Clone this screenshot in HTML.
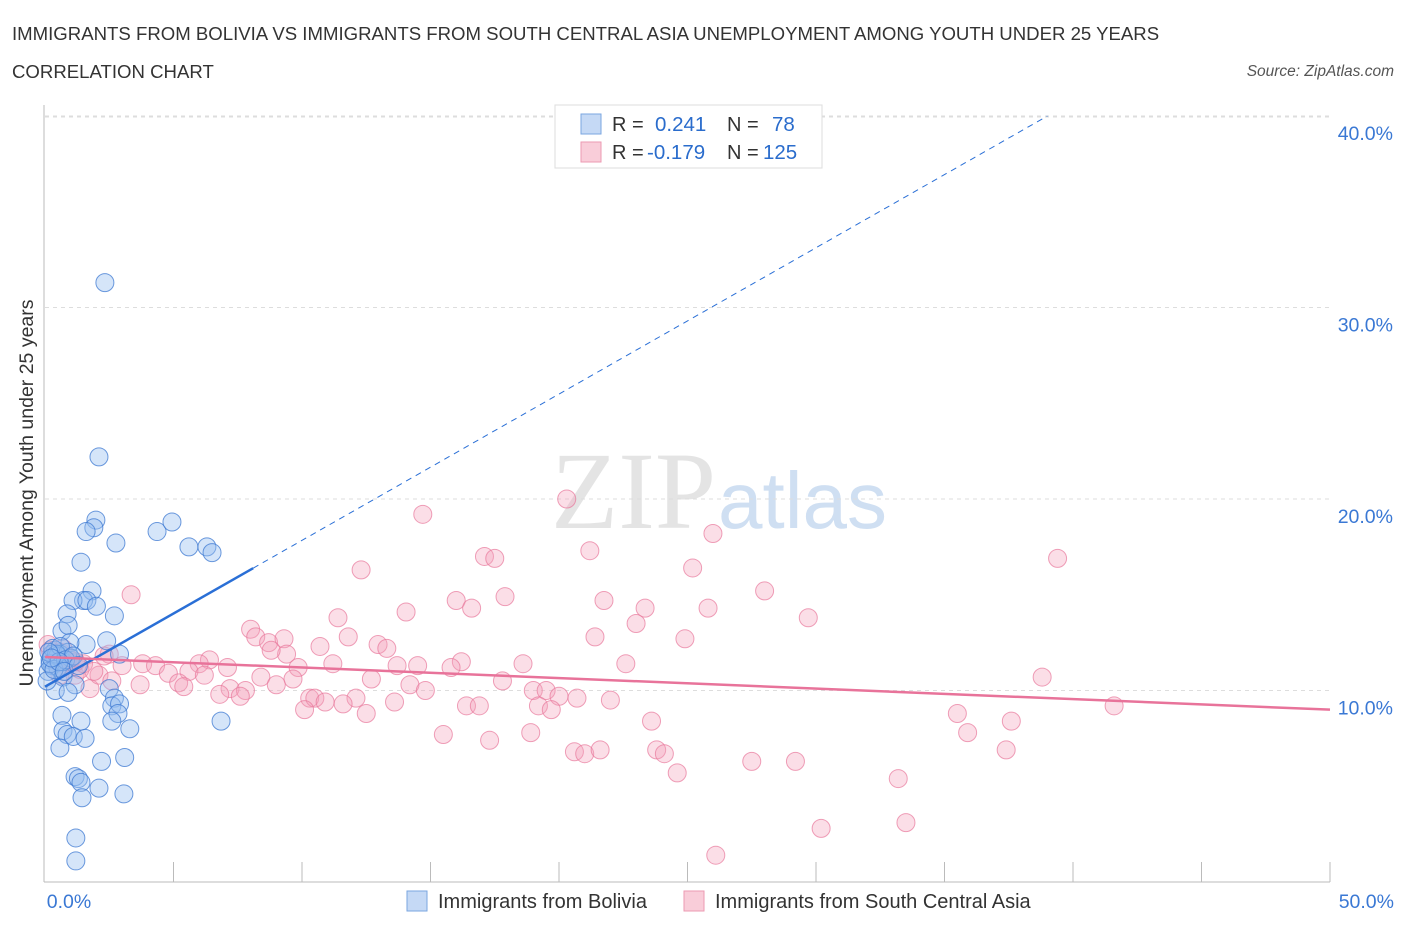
<!DOCTYPE html>
<html><head><meta charset="utf-8">
<style>
body{margin:0;background:#fff;font-family:"Liberation Sans",sans-serif;}
svg text{font-family:"Liberation Sans",sans-serif;}
</style></head>
<body>
<svg id="chart" width="1406" height="930" viewBox="0 0 1406 930" xmlns="http://www.w3.org/2000/svg">
<text x="12" y="40" font-size="18.6" fill="#333">IMMIGRANTS FROM BOLIVIA VS IMMIGRANTS FROM SOUTH CENTRAL ASIA UNEMPLOYMENT AMONG YOUTH UNDER 25 YEARS</text>
<text x="12" y="78" font-size="18.6" fill="#333">CORRELATION CHART</text>
<text x="1394" y="76" font-size="15.5" fill="#555" font-style="italic" text-anchor="end">Source: ZipAtlas.com</text>
<text x="716" y="528" font-size="110" fill="#e4e4e4" text-anchor="end" style="font-family:'Liberation Serif',serif">ZIP</text>
<text x="718" y="528" font-size="80" fill="#cfdff2">atlas</text>
<g id="grid"></g>
<g id="axes"></g>
<g id="pts"></g>
<g id="trends"></g>
<text x="33" y="493" font-size="19.5" fill="#333" text-anchor="middle" transform="rotate(-90 33 493)">Unemployment Among Youth under 25 years</text>
<g>
<rect x="555" y="105" width="267" height="63" fill="#fff" stroke="#ddd"/>
<rect x="581" y="114" width="20" height="20" fill="#c5d9f5" stroke="#7aa6e0"/>
<rect x="581" y="142" width="20" height="20" fill="#f9cdd9" stroke="#ec9ab2"/>
<text x="612" y="131" font-size="20" fill="#333">R = </text><text x="655" y="131" font-size="20.5" fill="#2a6ccc">0.241</text>
<text x="727" y="131" font-size="20" fill="#333">N = </text><text x="772" y="131" font-size="20.5" fill="#2a6ccc">78</text>
<text x="612" y="159" font-size="20" fill="#333">R = </text><text x="647" y="159" font-size="20.5" fill="#2a6ccc">-0.179</text>
<text x="727" y="159" font-size="20" fill="#333">N = </text><text x="763" y="159" font-size="20.5" fill="#2a6ccc">125</text>
</g>
<g>
<rect x="407" y="891" width="20" height="20" fill="#c5d9f5" stroke="#7aa6e0"/>
<text x="438" y="908" font-size="20" fill="#333">Immigrants from Bolivia</text>
<rect x="684" y="891" width="20" height="20" fill="#f9cdd9" stroke="#ec9ab2"/>
<text x="715" y="908" font-size="20" fill="#333">Immigrants from South Central Asia</text>
</g>
</svg>
<script>
const blueX=[2.33,2.1,1.98,1.9,1.6,2.76,4.36,4.94,5.6,6.3,6.5,1.4,1.83,1.5,1.09,1.63,2.0,2.7,0.86,0.66,0.9,2.4,1.6,0.97,2.9,0.4,0.58,0.2,0.27,0.5,0.12,0.7,1.17,0.4,0.9,2.5,2.7,2.6,2.9,2.84,0.66,1.4,2.6,3.3,6.85,0.7,0.86,1.1,1.56,0.58,3.1,2.2,1.17,1.3,1.4,2.1,1.44,3.07,1.2,1.2,0.08,0.27,0.3,0.5,0.7,0.9,1.0,0.2,0.45,0.6,0.35,0.8,1.1,0.15,0.55,0.75,1.3,0.25];
const blueY=[31.3,22.2,18.9,18.5,18.3,17.7,18.3,18.8,17.5,17.5,17.2,16.7,15.2,14.7,14.7,14.7,14.4,13.9,14.0,13.1,13.4,12.6,12.4,12.5,11.9,12.1,11.9,11.6,11.3,11.2,11.0,10.7,10.3,10.0,9.9,10.1,9.6,9.2,9.3,8.8,8.7,8.4,8.4,8.0,8.4,7.9,7.7,7.6,7.5,7.0,6.5,6.3,5.5,5.4,5.2,4.9,4.4,4.6,2.3,1.1,10.5,11.9,12.2,11.8,11.5,12.0,11.7,11.4,11.9,12.3,11.1,11.6,11.8,12.0,11.5,11.0,11.3,11.7];
const pinkX=[20.3,14.7,25.99,21.2,17.1,17.5,39.4,12.3,25.2,3.35,28.0,17.9,21.75,16.0,16.6,14.05,23.35,25.8,29.7,11.4,23.0,8.0,8.2,11.8,8.7,21.4,24.9,9.3,10.7,12.96,13.3,2.5,9.4,8.8,6.4,6.0,7.1,11.2,9.85,13.7,14.5,16.2,15.8,18.6,22.6,3.8,4.3,3.0,4.8,5.6,6.2,8.4,9.65,12.7,17.8,38.8,3.7,5.2,5.4,7.2,7.8,6.8,7.6,9.0,14.2,14.8,19.0,19.5,20.0,20.7,22.0,10.3,10.5,12.1,10.9,11.6,13.6,10.1,12.5,16.4,16.9,19.2,19.7,41.6,35.5,23.6,37.6,15.5,18.9,17.3,35.9,20.6,21.0,21.6,23.8,24.1,37.4,27.5,29.2,24.6,33.2,33.5,30.2,26.1,0.2,0.4,0.8,0.97,0.58,1.17,1.75,2.1,2.6,1.36,0.12,0.3,0.6,1.0,1.5,2.3,0.5,0.9,1.2,0.7,1.9];
const pinkY=[20.0,19.2,18.2,17.3,17.0,16.9,16.9,16.3,16.4,15.0,15.2,14.9,14.7,14.7,14.3,14.1,14.3,14.3,13.8,13.8,13.5,13.2,12.8,12.8,12.5,12.8,12.7,12.7,12.3,12.4,12.2,11.9,11.9,12.1,11.6,11.4,11.2,11.4,11.2,11.3,11.3,11.5,11.2,11.4,11.4,11.4,11.3,11.3,10.9,11.0,10.8,10.7,10.6,10.6,10.5,10.7,10.3,10.4,10.2,10.1,10.0,9.8,9.7,10.3,10.3,10.0,10.0,10.0,9.7,9.6,9.5,9.6,9.6,9.6,9.4,9.3,9.4,9.0,8.8,9.2,9.2,9.2,9.0,9.2,8.8,8.4,8.4,7.7,7.8,7.4,7.8,6.8,6.7,6.9,6.9,6.7,6.9,6.3,6.3,5.7,5.4,3.1,2.8,1.4,12.1,11.6,11.3,11.5,10.8,10.8,10.1,10.8,10.5,11.1,12.4,11.9,12.0,11.6,11.4,11.8,11.2,11.7,11.5,12.2,11.0];
const yTicks=[10,20,30,40];
const yTickLabels=["10.0%","20.0%","30.0%","40.0%"];
const xTickLabels=["0.0%","50.0%"];
const blueTrend=[10.2,0.764];
const pinkTrend=[11.75,-0.055];

const X=v=>45+v*25.7, Y=v=>882-v*19.15;
const NS="http://www.w3.org/2000/svg";
function mk(parent,tag,attrs){const e=document.createElementNS(NS,tag);for(const k in attrs)e.setAttribute(k,attrs[k]);document.getElementById(parent).appendChild(e);return e;}
yTicks.forEach((t,i)=>{
 const l=mk('grid','line',{x1:45,x2:1330,y1:Y(t),y2:Y(t),stroke:'#ddd','stroke-dasharray':'4,4'});
 
 
 const tx=mk('grid','text',{x:1393,y:Y(t)+24,'font-size':19.5,fill:'#3a78d4','text-anchor':'end'});
 tx.textContent=yTickLabels[i];
 
 
});
const topLine=mk('grid','line',{x1:45,x2:1330,y1:117,y2:117,stroke:'#ddd','stroke-dasharray':'4,4'});


const ya=mk('axes','line',{x1:44,x2:44,y1:105,y2:882,stroke:'#bbb'});


const xa=mk('axes','line',{x1:44,x2:1330,y1:882,y2:882,stroke:'#bbb'});


for(let i=1;i<=10;i++){const tk=mk('axes','line',{x1:X(i*5),x2:X(i*5),y1:862,y2:882,stroke:'#bbb'});
 
 }
[[0,69,'middle'],[50,1394,'end']].forEach((d,i)=>{const tx=mk('axes','text',{x:d[1],y:908,'font-size':19.5,fill:'#3a78d4','text-anchor':d[2]});tx.textContent=xTickLabels[i];
 
 });
pinkX.forEach((x,i)=>{const c=mk('pts','circle',{cx:X(x),cy:Y(pinkY[i]),r:9,fill:'rgba(244,160,185,0.35)',stroke:'rgba(232,120,155,0.7)','stroke-width':1});
 
 });
blueX.forEach((x,i)=>{const c=mk('pts','circle',{cx:X(x),cy:Y(blueY[i]),r:9,fill:'rgba(150,190,240,0.4)',stroke:'rgba(60,120,210,0.75)','stroke-width':1});
 
 });
const bs=mk('trends','line',{x1:X(0),y1:Y(blueTrend[0]),x2:X(8.1),y2:Y(blueTrend[0]+blueTrend[1]*8.1),stroke:'#2a6fd6','stroke-width':2.5});


const xe=(40-blueTrend[0])/blueTrend[1];
const bd=mk('trends','line',{x1:X(8.1),y1:Y(blueTrend[0]+blueTrend[1]*8.1),x2:X(xe),y2:Y(40),stroke:'#2a6fd6','stroke-width':1,'stroke-dasharray':'6,5'});


const ps=mk('trends','line',{x1:X(0),y1:Y(pinkTrend[0]),x2:X(50),y2:Y(pinkTrend[0]+pinkTrend[1]*50),stroke:'#e8739a','stroke-width':2.5});


</script>
</body></html>
